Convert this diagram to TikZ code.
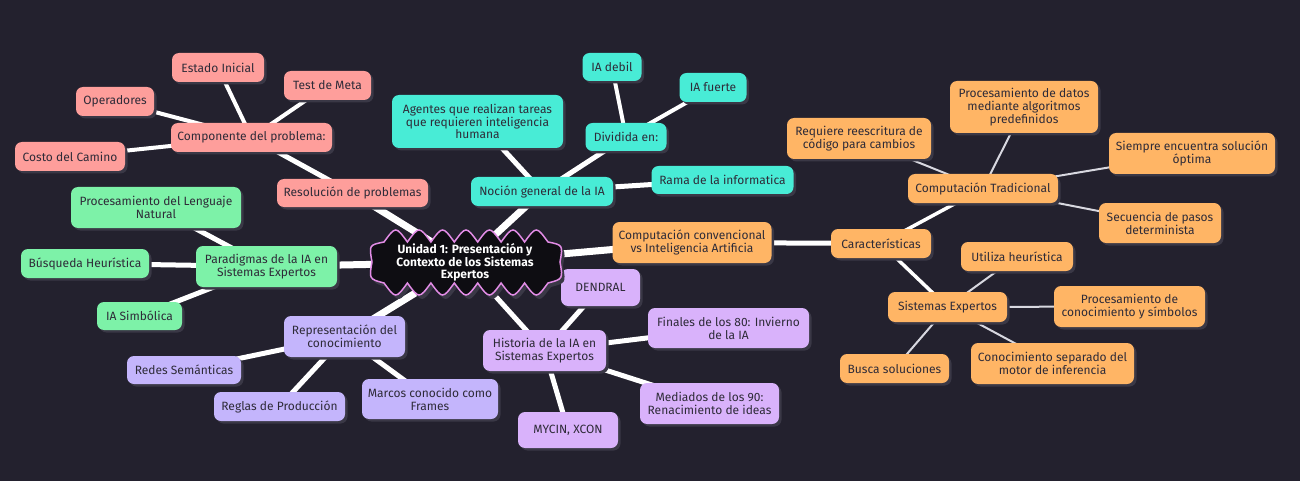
\documentclass[tikz,border=0pt]{standalone}
\usepackage{fontspec}
\setmainfont{Fira Sans}
\usetikzlibrary{backgrounds,shadows}
\definecolor{bgc}{HTML}{23212E}
\definecolor{shc}{HTML}{3A3846}
\definecolor{txc}{HTML}{2E2B38}
\definecolor{pinkc}{HTML}{FE9E9B}
\definecolor{tealc}{HTML}{48ECD6}
\definecolor{orangec}{HTML}{FFB565}
\definecolor{greenc}{HTML}{7DF2A8}
\definecolor{lavc}{HTML}{C4B5FC}
\definecolor{purc}{HTML}{D9B2FB}
\definecolor{cloudc}{HTML}{0E0D12}
\definecolor{cloudb}{HTML}{E28CE6}
\definecolor{thinc}{HTML}{D8D8E0}
\tikzset{
  box/.style={rounded corners=7pt, text=txc, align=center, inner sep=0pt,
    font=\fontsize{12}{12.8}\selectfont,
    drop shadow={shadow xshift=2.5pt, shadow yshift=-2.5pt, fill=shc, opacity=1}},
  pk/.style={box, fill=pinkc},
  tl/.style={box, fill=tealc},
  og/.style={box, fill=orangec},
  gr/.style={box, fill=greenc},
  lv/.style={box, fill=lavc},
  pu/.style={box, fill=purc},
  eA/.style={draw=white, line width=7pt},
  eB/.style={draw=white, line width=5pt},
  eC/.style={draw=white, line width=4pt},
  eD/.style={draw=white, line width=3.5pt},
  eE/.style={draw=thinc, line width=2pt},
}
\begin{document}
\begin{tikzpicture}[x=1pt,y=-1pt]
\useasboundingbox (0,0) rectangle (1300,481);
\begin{scope}[on background layer]
\fill[bgc] (0,0) rectangle (1300,481);
\end{scope}

% central shape
\def\cloudpath{(384,242) .. controls (395.7,226) .. (407.4,242) .. controls (419.1,226) .. (430.9,242) .. controls (442.6,226) .. (454.3,242) .. controls (466,226) .. (477.7,242) .. controls (489.4,226) .. (501.1,242) .. controls (512.9,226) .. (524.6,242) .. controls (536.3,226) .. (548,242) .. controls (563,245) .. (560,262) .. controls (563,279) .. (548,283) .. controls (536.3,299) .. (524.6,283) .. controls (512.9,299) .. (501.1,283) .. controls (489.4,299) .. (477.7,283) .. controls (466,299) .. (454.3,283) .. controls (442.6,299) .. (430.9,283) .. controls (419.1,299) .. (407.4,283) .. controls (395.7,299) .. (384,283) .. controls (369,279) .. (372,262) .. controls (369,245) .. (384,242) -- cycle}

% nodes
\node[pk, minimum width=92, minimum height=29] (ei) at (218,67.5) {Estado Inicial};
\node[pk, minimum width=87, minimum height=29] (tm) at (327.5,85.5) {Test de Meta};
\node[pk, minimum width=78, minimum height=29] (op) at (115,101.5) {Operadores};
\node[pk, minimum width=161, minimum height=29] (cp) at (251.5,137.5) {Componente del problema:};
\node[pk, minimum width=110, minimum height=29] (cc) at (70,156.5) {Costo del Camino};
\node[pk, minimum width=151, minimum height=28] (res) at (352.5,193) {Resolución de problemas};

\node[tl, minimum width=59, minimum height=28] (deb) at (612,67) {IA debil};
\node[tl, minimum width=67, minimum height=29] (fue) at (713,87.5) {IA fuerte};
\node[tl, minimum width=171, minimum height=53] (ag) at (477.5,121.5) {Agentes que realizan tareas\\que requieren inteligencia\\humana};
\node[tl, minimum width=81, minimum height=28] (div) at (626,137) {Dividida en:};
\node[tl, minimum width=142, minimum height=28] (rama) at (722.5,180) {Rama de la informatica};
\node[tl, minimum width=142, minimum height=29] (noc) at (542,191.5) {Noción general de la IA};

\node[og, minimum width=148, minimum height=52] (pdat) at (1024,107) {Procesamiento de datos\\mediante algoritmos\\predefinidos};
\node[og, minimum width=144, minimum height=41] (req) at (859,138.5) {Requiere reescritura de\\código para cambios};
\node[og, minimum width=166, minimum height=41] (sie) at (1192,153.5) {Siempre encuentra solución\\óptima};
\node[og, minimum width=150, minimum height=29] (ct) at (983,188.5) {Computación Tradicional};
\node[og, minimum width=122, minimum height=40] (sec) at (1160,223) {Secuencia de pasos\\determinista};
\node[og, minimum width=159, minimum height=41] (conv) at (692,242.5) {Computación convencional\\vs Inteligencia Artificia};
\node[og, minimum width=100, minimum height=29] (car) at (881,243.5) {Características};
\node[og, minimum width=112, minimum height=29] (uti) at (1017,256.5) {Utiliza heurística};
\node[og, minimum width=119, minimum height=30] (se) at (947.5,307) {Sistemas Expertos};
\node[og, minimum width=151, minimum height=41] (pcon) at (1129.5,306.5) {Procesamiento de\\conocimiento y símbolos};
\node[og, minimum width=109, minimum height=29] (bus) at (894.5,368.5) {Busca soluciones};
\node[og, minimum width=163, minimum height=41] (csep) at (1052.5,363.5) {Conocimiento separado del\\motor de inferencia};

\node[gr, minimum width=170, minimum height=41] (pln) at (156,207.5) {Procesamiento del Lenguaje\\Natural};
\node[gr, minimum width=128, minimum height=29] (bh) at (85,263.5) {Búsqueda Heurística};
\node[gr, minimum width=141, minimum height=41] (par) at (266.5,266.5) {Paradigmas de la IA en\\Sistemas Expertos};
\node[gr, minimum width=85, minimum height=28] (sim) at (139.5,316) {IA Simbólica};

\node[lv, minimum width=121, minimum height=41] (rep) at (344.5,336.5) {Representación del\\conocimiento};
\node[lv, minimum width=114, minimum height=28] (red) at (184,370) {Redes Semánticas};
\node[lv, minimum width=131, minimum height=29] (reg) at (279.5,406.5) {Reglas de Producción};
\node[lv, minimum width=136, minimum height=40] (mar) at (430,399) {Marcos conocido como\\Frames};

\node[pu, minimum width=79, minimum height=37] (den) at (600.5,287.5) {DENDRAL};
\node[pu, minimum width=123, minimum height=41] (his) at (544.5,350.5) {Historia de la IA en\\Sistemas Expertos};
\node[pu, minimum width=161, minimum height=40] (fin) at (728.5,328) {Finales de los 80: Invierno\\de la IA};
\node[pu, minimum width=139, minimum height=41] (med) at (709.5,403.5) {Mediados de los 90:\\Renacimiento de ideas};
\node[pu, minimum width=100, minimum height=36] (myc) at (568,430) {MYCIN, XCON};

% central node
\fill[shc] [shift={(3,4)}] \cloudpath;
\fill[cloudc] \cloudpath;
\draw[cloudb, line width=1.5pt] \cloudpath;
\node[text=white, align=center, font=\fontsize{12}{12.8}\selectfont\bfseries, inner sep=0pt] (c) at (465,262.5) {Unidad 1: Presentación y\\Contexto de los Sistemas\\Expertos};

% edges
\begin{scope}[on background layer]
\path[eA] (c.center) -- (res.center);
\path[eA] (c.center) -- (noc.center);
\path[eA] (c.center) -- (conv.center);
\path[eA] (c.center) -- (par.center);
\path[eA] (c.center) -- (rep.center);
\path[eB] (c.center) -- (his.center);
\path[eB] (res.center) -- (cp.center);
\path[eC] (cp.center) -- (ei.center);
\path[eC] (cp.center) -- (tm.center);
\path[eC] (cp.center) -- (op.center);
\path[eC] (cp.center) -- (cc.center);
\path[eB] (noc.center) -- (ag.center);
\path[eB] (noc.center) -- (div.center);
\path[eB] (noc.center) -- (rama.center);
\path[eC] (div.center) -- (deb.center);
\path[eC] (div.center) -- (fue.center);
\path[eB] (conv.center) -- (car.center);
\path[eD] (car.center) -- (ct.center);
\path[eD] (car.center) -- (se.center);
\path[eE] (ct.center) -- (req.center);
\path[eE] (ct.center) -- (pdat.center);
\path[eE] (ct.center) -- (sie.center);
\path[eE] (ct.center) -- (sec.center);
\path[eE] (se.center) -- (uti.center);
\path[eE] (se.center) -- (pcon.center);
\path[eE] (se.center) -- (bus.center);
\path[eE] (se.center) -- (csep.center);
\path[eB] (par.center) -- (pln.center);
\path[eB] (par.center) -- (bh.center);
\path[eB] (par.center) -- (sim.center);
\path[eB] (rep.center) -- (red.center);
\path[eB] (rep.center) -- (reg.center);
\path[eB] (rep.center) -- (mar.center);
\path[eB] (his.center) -- (den.center);
\path[eB] (his.center) -- (fin.center);
\path[eB] (his.center) -- (med.center);
\path[eB] (his.center) -- (myc.center);
\end{scope}
\end{tikzpicture}
\end{document}
